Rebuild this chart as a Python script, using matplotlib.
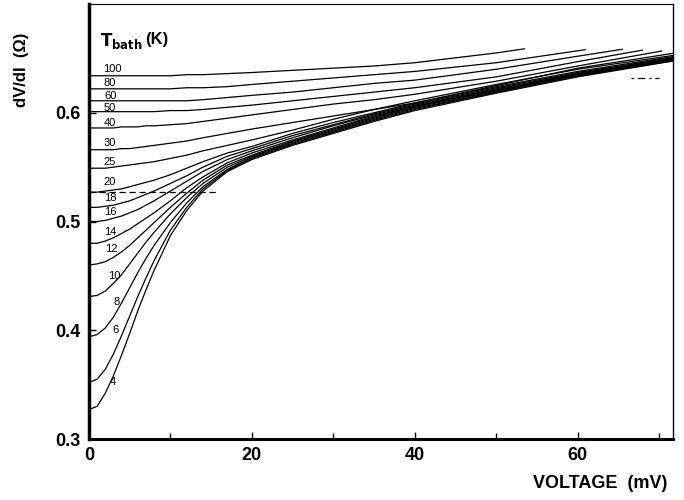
import numpy as np
import matplotlib
matplotlib.use("Agg")
import matplotlib.pyplot as plt
from matplotlib.patches import Rectangle

plt.rcParams['font.family'] = ['Liberation Sans', 'DejaVu Sans']

# voltage grid (mV) shared by all curves
voltage = [0, 1, 2, 3, 4, 5, 6, 7, 8, 10, 12, 14, 17, 20, 25, 30, 35, 40, 50, 60, 72]

# bath temperatures (K)
temps = [4, 6, 8, 10, 12, 14, 16, 18, 20, 25, 30, 40, 50, 60, 80, 100]

# dV/dI (ohm), one row per temperature
dvdi_4 = [.327, .330, .342, .358, .377, .397, .418, .437, .455, .487, .510, .528, .546, .557, .570, .581, .592, .602, .618, .633, .648]
dvdi_6 = [.352, .355, .364, .378, .395, .413, .431, .448, .464, .492, .513, .530, .547, .558, .571, .582, .593, .603, .619, .634, .648]
dvdi_8 = [.394, .396, .402, .412, .425, .439, .453, .466, .478, .499, .517, .532, .548, .559, .572, .583, .594, .604, .619, .634, .649]
dvdi_10 = [.431, .432, .436, .443, .451, .461, .471, .481, .490, .507, .522, .535, .550, .560, .573, .584, .595, .605, .620, .635, .649]
dvdi_12 = [.460, .461, .463, .467, .472, .478, .485, .492, .499, .513, .526, .538, .552, .561, .574, .585, .596, .606, .621, .635, .650]
dvdi_14 = [.480, .480, .482, .485, .489, .493, .498, .503, .508, .519, .531, .541, .554, .563, .575, .586, .597, .606, .621, .636, .650]
dvdi_16 = [.500, .500, .501, .503, .505, .508, .511, .515, .519, .528, .537, .546, .557, .565, .577, .588, .598, .607, .622, .636, .651]
dvdi_18 = [.513, .513, .514, .515, .517, .519, .522, .525, .528, .535, .542, .550, .560, .567, .579, .589, .599, .608, .623, .637, .651]
dvdi_20 = [.527, .527, .528, .529, .530, .532, .534, .536, .538, .543, .549, .555, .563, .569, .581, .591, .600, .609, .624, .638, .652]
dvdi_25 = [.549, .549, .549, .550, .551, .552, .553, .554, .555, .558, .561, .565, .570, .575, .584, .594, .603, .611, .626, .640, .653]
dvdi_30 = [.566, .566, .566, .566, .567, .567, .568, .569, .570, .572, .574, .577, .581, .585, .591, .597, .603, .609, .625, .641, .655]
dvdi_40 = [.586, .586, .586, .586, .587, .587, .587, .588, .588, .589, .590, .592, .595, .598, .603, .608, .612, .617, .629, .643, .659]
dvdi_50 = [.601, .601, .601, .601, .601, .601, .601, .601, .601, .602, .602, .603, .605, .607, .611, .615, .619, .623, .633, .647, .663]
dvdi_60 = [.611, .611, .611, .611, .611, .611, .611, .611, .611, .611, .611, .612, .614, .616, .619, .623, .627, .630, .640, .652, .666]
dvdi_80 = [.622, .622, .622, .622, .622, .622, .622, .622, .622, .622, .623, .623, .624, .626, .629, .632, .635, .638, .646, .657, .670]
dvdi_100 = [.634, .634, .634, .634, .634, .634, .634, .634, .634, .634, .635, .635, .636, .637, .639, .641, .643, .646, .655, .666, .678]

curves = [dvdi_4, dvdi_6, dvdi_8, dvdi_10, dvdi_12, dvdi_14, dvdi_16, dvdi_18,
          dvdi_20, dvdi_25, dvdi_30, dvdi_40, dvdi_50, dvdi_60, dvdi_80, dvdi_100]

# where the high temperature sweeps stop (mV)
v_stop = {40: 70.3, 50: 68.0, 60: 65.5, 80: 61.0, 100: 53.5}

# label spots (mV, ohm)
label_pos = {100: (2.9, .640), 80: (2.6, .627), 60: (2.6, .6155), 50: (2.6, .6045),
             40: (2.6, .591), 30: (2.6, .572), 25: (2.6, .555), 20: (2.6, .536),
             18: (2.6, .522), 16: (2.6, .509), 14: (2.6, .490), 12: (2.8, .475),
             10: (3.1, .450), 8: (3.4, .426), 6: (3.3, .400), 4: (2.9, .352)}

fig = plt.figure(figsize=(6.84, 5.0), dpi=100)
ax = fig.add_axes([0.130, 0.122, 0.854, 0.870])

for T, vals in zip(temps, curves):
    line, = ax.plot(voltage, vals, color='black', lw=0.9)
    if T in v_stop:
        clip = Rectangle((0, 0), v_stop[T], 1, transform=ax.transData)
        line.set_clip_path(clip)
    lx, ly = label_pos[T]
    ax.text(lx, ly, str(T), fontsize=8, ha='center', va='center')

# dashed markers
ax.plot([0, 16], [0.527, 0.527], color='black', lw=0.9, ls=(0, (5, 3)))
ax.plot([66.5, 70], [0.632, 0.632], color='black', lw=0.9, ls=(0, (2, 3, 6, 3)))

ax.text(1.4, 0.666, r'$\mathbf{T_{bath}}$', fontsize=12, ha='left', va='center')
ax.text(6.9, 0.667, '(K)', fontsize=12, fontweight='bold', ha='left', va='center')

ax.set_xlim(0, 71.7)
ax.set_ylim(0.3, 0.70)
ax.set_xticks([0, 20, 40, 60])
ax.set_xticks([10, 30, 50, 70], minor=True)
ax.set_yticks([0.3, 0.4, 0.5, 0.6])
ax.set_yticklabels(['0.3', '0.4', '0.5', '0.6'])
ax.tick_params(axis='both', which='both', direction='in', labelsize=13, width=1)
ax.tick_params(axis='both', which='major', length=5, pad=6)
ax.tick_params(axis='both', which='minor', length=4)
for lab in ax.get_xticklabels() + ax.get_yticklabels():
    lab.set_fontweight('bold')

ax.spines['left'].set_linewidth(2.5)
ax.spines['bottom'].set_linewidth(2.2)
ax.spines['right'].set_linewidth(1.0)
ax.spines['top'].set_linewidth(0.8)

fig.text(0.032, 0.86, 'dV/dI  (\u03a9)', rotation=90, fontsize=12, fontweight='bold',
         ha='center', va='center')
fig.text(0.975, 0.034, 'VOLTAGE  (mV)', fontsize=13, fontweight='bold',
         ha='right', va='center')

fig.savefig('out.png', dpi=100)
